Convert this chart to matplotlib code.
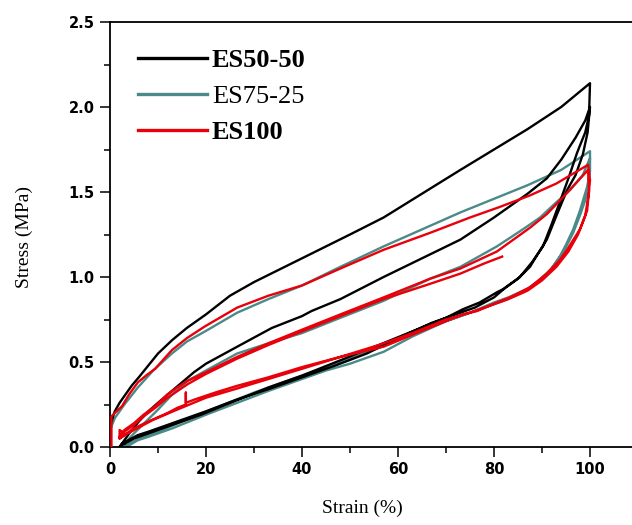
import matplotlib
matplotlib.use("Agg")
import matplotlib.pyplot as plt
from matplotlib.lines import Line2D

# ES50-50: load 1, unload 1, load 2, unload 2
es50_x = [0.2, 1, 2, 3, 4.5, 6, 8, 10, 13, 16, 20, 25, 30, 35, 40, 45, 50, 57, 65, 73, 80, 87, 94, 100,
          99.8, 99, 98, 97.3, 95.5, 93.7, 92, 90.2, 88, 85.4, 82.5, 80, 76, 73, 67, 60, 53.5, 47, 40, 33, 26.5, 20, 13, 8, 5.8, 2.5, 2,
          2, 4, 6, 8, 10, 12.5, 15, 17.5, 20, 26.5, 33.7, 40, 42, 48, 57, 65, 73, 80, 87, 91, 94, 97, 99, 100,
          99.5, 98.5, 97, 95.2, 93, 91, 89, 87.5, 85, 82, 80.6, 77, 73.5, 70, 63, 56, 48, 40, 33, 26, 19, 13, 8, 5, 2.5]
es50_y = [0.14, 0.21, 0.26, 0.30, 0.36, 0.41, 0.48, 0.55, 0.63, 0.70, 0.78, 0.89, 0.97, 1.04, 1.11, 1.18, 1.25, 1.35, 1.49, 1.63, 1.75, 1.87, 2.00, 2.14,
          1.95, 1.85, 1.78, 1.73, 1.58, 1.44, 1.31, 1.18, 1.09, 1.00, 0.94, 0.88, 0.82, 0.79, 0.73, 0.64, 0.55, 0.48, 0.41, 0.34, 0.28, 0.21, 0.14, 0.09, 0.07, 0.02, 0.0,
          0.0, 0.08, 0.15, 0.21, 0.26, 0.32, 0.38, 0.44, 0.49, 0.59, 0.70, 0.77, 0.80, 0.87, 1.00, 1.11, 1.22, 1.35, 1.49, 1.58, 1.69, 1.82, 1.92, 2.00,
          1.85, 1.72, 1.60, 1.51, 1.36, 1.22, 1.13, 1.06, 0.99, 0.93, 0.91, 0.85, 0.81, 0.76, 0.68, 0.60, 0.51, 0.42, 0.35, 0.27, 0.19, 0.13, 0.08, 0.05, 0.01]

# ES75-25
es75_x = [0.3, 1, 3, 5.8, 9, 12.9, 16, 19.8, 26.5, 33, 40, 48, 57, 65, 73, 80, 87, 94, 100,
          100, 99.4, 97.9, 96.5, 95, 93.7, 92, 90, 87, 83, 80, 75, 70, 63, 57, 50, 45, 40, 33, 26.5, 20, 13, 8, 5.8, 3.4,
          3, 5, 7.5, 10, 13, 16.2, 20, 26.5, 33, 40, 48, 57, 66.7, 73, 80.6, 86, 89.6, 93, 95.8, 98.5, 100,
          99.6, 98, 96.5, 94.5, 92, 89, 86, 82, 78, 74, 68, 60, 52, 45, 38, 30, 22, 15, 9, 6, 3.5]
es75_y = [0.12, 0.17, 0.25, 0.35, 0.45, 0.55, 0.62, 0.68, 0.79, 0.87, 0.95, 1.06, 1.18, 1.28, 1.38, 1.46, 1.54, 1.63, 1.74,
          1.62, 1.53, 1.39, 1.28, 1.19, 1.12, 1.05, 0.99, 0.93, 0.88, 0.85, 0.79, 0.74, 0.65, 0.56, 0.49, 0.45, 0.40, 0.33, 0.26, 0.19, 0.11, 0.06, 0.04, 0.0,
          0.02, 0.08, 0.15, 0.22, 0.31, 0.39, 0.45, 0.55, 0.61, 0.67, 0.76, 0.86, 0.99, 1.06, 1.18, 1.28, 1.35, 1.44, 1.51, 1.60, 1.70,
          1.50, 1.37, 1.26, 1.15, 1.05, 0.97, 0.91, 0.86, 0.82, 0.78, 0.72, 0.63, 0.54, 0.47, 0.40, 0.32, 0.23, 0.15, 0.08, 0.05, 0.01]

# ES100
es100_x = [0.3, 0.3, 1, 2.5, 4, 5.8, 7.5, 9.4, 12.9, 16, 19.8, 26.5, 33, 40, 48, 57, 66.7, 75, 81, 87.5, 93, 99.6,
           100, 99.4, 97.9, 95.2, 93.7, 91, 87.5, 83.3, 80.6, 76.5, 73.5, 70, 63, 57, 48, 40, 33, 26.5, 21.9, 17.7, 15.8, 15.8, 15.8, 14, 12, 8, 5, 3, 2, 2, 3, 2,
           2, 3, 5, 7, 9.4, 12, 14, 16.2, 20, 26.5, 33, 40, 48, 57, 66.7, 73, 80.6, 87.5, 91, 94.4, 97, 99.6,
           99.8, 99, 97.5, 95.5, 93, 90, 87, 83, 79, 75, 70, 63, 56, 48, 40, 33, 26, 20, 14, 9, 5, 2.5, 2,
           2, 3, 5, 7, 9.4, 12, 16.2, 20, 26.5, 33, 40, 48, 57, 66.7, 73, 78, 81.7]
es100_y = [0.0, 0.18, 0.20, 0.24, 0.31, 0.38, 0.42, 0.46, 0.57, 0.64, 0.71, 0.82, 0.89, 0.95, 1.05, 1.16, 1.26, 1.35, 1.41, 1.48, 1.55, 1.66,
           1.57, 1.39, 1.28, 1.16, 1.10, 1.02, 0.94, 0.88, 0.85, 0.80, 0.78, 0.74, 0.66, 0.59, 0.53, 0.47, 0.41, 0.36, 0.32, 0.28, 0.26, 0.32, 0.25, 0.23, 0.20, 0.15, 0.11, 0.07, 0.05, 0.10, 0.08, 0.06,
           0.06, 0.10, 0.14, 0.19, 0.24, 0.31, 0.35, 0.39, 0.44, 0.53, 0.61, 0.69, 0.78, 0.88, 0.99, 1.05, 1.15, 1.29, 1.37, 1.47, 1.55, 1.63,
           1.50, 1.36, 1.25, 1.15, 1.06, 0.98, 0.92, 0.87, 0.83, 0.79, 0.75, 0.67, 0.60, 0.53, 0.46, 0.40, 0.34, 0.29, 0.22, 0.16, 0.10, 0.06, 0.05,
           0.05, 0.09, 0.13, 0.18, 0.23, 0.29, 0.37, 0.43, 0.52, 0.60, 0.68, 0.77, 0.87, 0.96, 1.02, 1.08, 1.12]

labels = ["ES50-50", "ES75-25", "ES100"]
colors = ["#000000", "#4a8a88", "#e8000b"]

fig = plt.figure(figsize=(6.32, 5.25), dpi=100)
ax = fig.add_axes([110 / 632, 78 / 525, 522 / 632, 425 / 525])

ax.plot(es75_x, es75_y, color=colors[1], lw=1.7, zorder=2)
ax.plot(es50_x, es50_y, color=colors[0], lw=1.7, zorder=3)
ax.plot(es100_x, es100_y, color=colors[2], lw=1.7, zorder=4)

ax.set_xlim(0, 108.75)
ax.set_ylim(0, 2.5)
ax.set_xticks([0, 20, 40, 60, 80, 100])
ax.set_xticks([10, 30, 50, 70, 90], minor=True)
ax.set_yticks([0, 0.5, 1.0, 1.5, 2.0, 2.5])
ax.set_yticks([0.25, 0.75, 1.25, 1.75, 2.25], minor=True)
ax.set_yticklabels(["0.0", "0.5", "1.0", "1.5", "2.0", "2.5"])
ax.tick_params(which="major", direction="out", length=7, width=1.1, labelsize=10.5, pad=4)
ax.tick_params(which="minor", direction="out", length=4, width=1.1)
for lab in ax.get_xticklabels() + ax.get_yticklabels():
    lab.set_fontweight("bold")
ax.spines["right"].set_visible(False)
for s in ["left", "bottom", "top"]:
    ax.spines[s].set_linewidth(1.3)

ax.set_xlabel("Strain (%)", family="Liberation Serif", fontsize=14)
ax.set_ylabel("Stress (MPa)", family="Liberation Serif", fontsize=14)
ax.xaxis.set_label_coords(0.483, -0.125)
ax.yaxis.set_label_coords(-0.147, 0.494)

handles = [Line2D([], [], color=c, lw=2.4) for c in colors]
leg = ax.legend(handles, labels, loc="upper left", bbox_to_anchor=(0.0536, 0.937), frameon=False,
                borderpad=0, borderaxespad=0, handlelength=2.6, handletextpad=0.2, labelspacing=0.47,
                prop={"family": "Liberation Serif", "size": 19})
for t, w in zip(leg.get_texts(), ["bold", "normal", "bold"]):
    t.set_fontweight(w)

fig.savefig("out.png", dpi=100)
